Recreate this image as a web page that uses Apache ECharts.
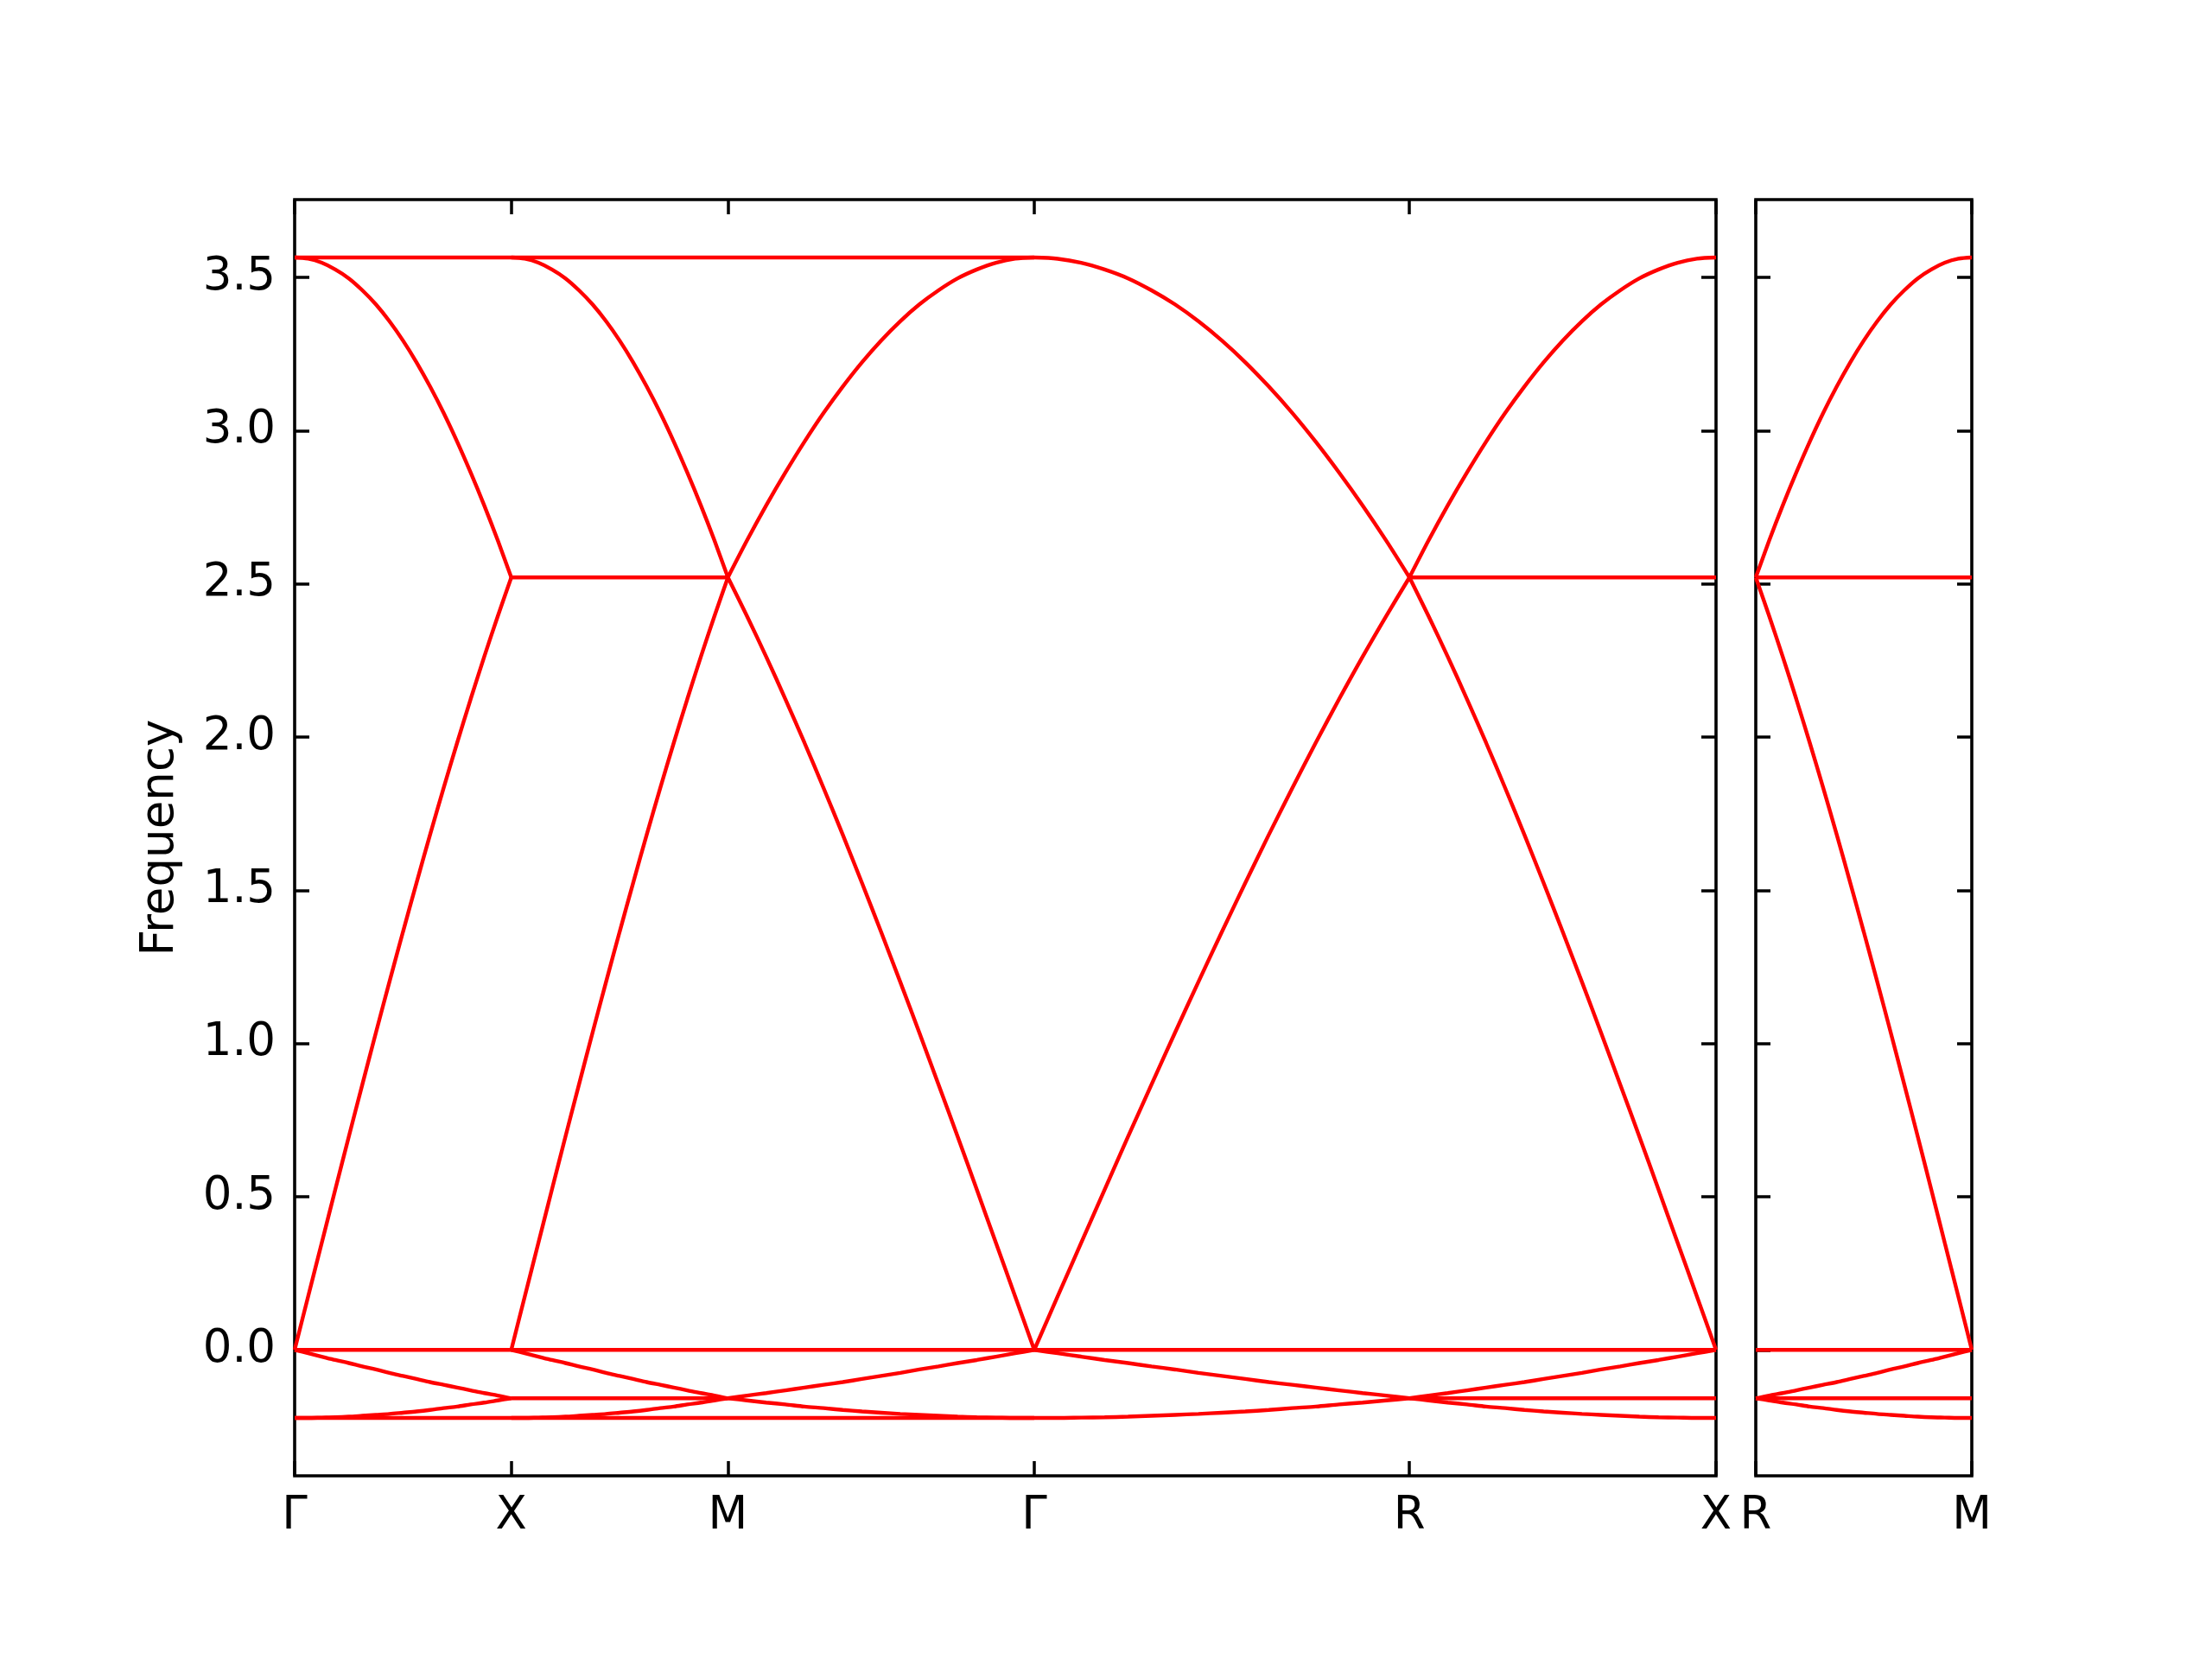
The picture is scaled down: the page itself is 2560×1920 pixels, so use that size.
<!DOCTYPE html>
<html>
<head>
<meta charset="utf-8">
<script src="https://cdn.jsdelivr.net/npm/echarts@6/dist/echarts.min.js"></script>
<style>
html,body{margin:0;padding:0;background:#fff;}
#chart{width:2560px;height:1920px;}
</style>
</head>
<body>
<div id="chart"></div>
<script>
// ---- k-path (x axis) ----
const kLabelsMain = ['Γ', 'X', 'M', 'Γ', 'R', 'X'];
const kPosMain = [0, 1, 2, 3.414, 5.146, 6.561];
const kLabelsSide = ['R', 'M'];
const kPosSide = [0, 1];

// ---- frequency axis ----
const yMin = -0.411;
const yMax = 3.754;
const yTickValues = [0, 0.5, 1.0, 1.5, 2.0, 2.5, 3.0, 3.5];

// fractions along each segment where the curves were read
const sampleFrac = [0, 0.0625, 0.125, 0.1875, 0.25, 0.3125, 0.375, 0.4375, 0.5,
                    0.5625, 0.625, 0.6875, 0.75, 0.8125, 0.875, 0.9375, 1];

// ---- dispersive curves, read left->right along each segment ----
// Γ-X
const curvesGX = [
  [3.565, 3.561, 3.548, 3.526, 3.497, 3.458, 3.412, 3.357, 3.294, 3.223, 3.144, 3.058, 2.964, 2.863, 2.756, 2.642, 2.521],
  [0, 0.175, 0.349, 0.523, 0.696, 0.866, 1.035, 1.201, 1.364, 1.524, 1.681, 1.833, 1.981, 2.124, 2.262, 2.394, 2.521],
  [0, -0.011, -0.022, -0.033, -0.043, -0.054, -0.064, -0.075, -0.085, -0.095, -0.105, -0.114, -0.123, -0.132, -0.141, -0.149, -0.158],
  [-0.222, -0.222, -0.221, -0.220, -0.218, -0.215, -0.212, -0.209, -0.205, -0.201, -0.196, -0.190, -0.185, -0.178, -0.172, -0.165, -0.158]
];
// X-M
const curvesXM = [
  [3.565, 3.561, 3.548, 3.526, 3.497, 3.458, 3.412, 3.357, 3.294, 3.223, 3.144, 3.058, 2.964, 2.863, 2.756, 2.642, 2.521],
  [0, 0.175, 0.349, 0.523, 0.696, 0.866, 1.035, 1.201, 1.364, 1.524, 1.681, 1.833, 1.981, 2.124, 2.262, 2.394, 2.521],
  [0, -0.011, -0.022, -0.033, -0.043, -0.054, -0.064, -0.075, -0.085, -0.095, -0.105, -0.114, -0.123, -0.132, -0.141, -0.149, -0.158],
  [-0.222, -0.222, -0.221, -0.220, -0.218, -0.215, -0.212, -0.209, -0.205, -0.201, -0.196, -0.190, -0.185, -0.178, -0.172, -0.165, -0.158]
];
// M-Γ
const curvesMG = [
  [2.521, 2.642, 2.756, 2.863, 2.964, 3.058, 3.144, 3.223, 3.294, 3.357, 3.412, 3.458, 3.497, 3.526, 3.548, 3.561, 3.565],
  [2.521, 2.394, 2.262, 2.124, 1.981, 1.833, 1.681, 1.524, 1.364, 1.201, 1.035, 0.866, 0.696, 0.523, 0.349, 0.175, 0],
  [-0.158, -0.149, -0.141, -0.132, -0.123, -0.114, -0.105, -0.095, -0.085, -0.075, -0.064, -0.054, -0.043, -0.033, -0.022, -0.011, 0],
  [-0.158, -0.165, -0.172, -0.178, -0.185, -0.190, -0.196, -0.201, -0.205, -0.209, -0.212, -0.215, -0.218, -0.220, -0.221, -0.222, -0.222]
];
// Γ-R
const curvesGR = [
  [3.565, 3.561, 3.548, 3.526, 3.497, 3.458, 3.412, 3.357, 3.294, 3.223, 3.144, 3.058, 2.964, 2.863, 2.756, 2.642, 2.521],
  [0, 0.175, 0.349, 0.523, 0.696, 0.866, 1.035, 1.201, 1.364, 1.524, 1.681, 1.833, 1.981, 2.124, 2.262, 2.394, 2.521],
  [0, -0.011, -0.022, -0.033, -0.043, -0.054, -0.064, -0.075, -0.085, -0.095, -0.105, -0.114, -0.123, -0.132, -0.141, -0.149, -0.158],
  [-0.222, -0.222, -0.221, -0.220, -0.218, -0.215, -0.212, -0.209, -0.205, -0.201, -0.196, -0.190, -0.185, -0.178, -0.172, -0.165, -0.158]
];
// R-X
const curvesRX = [
  [2.521, 2.642, 2.756, 2.863, 2.964, 3.058, 3.144, 3.223, 3.294, 3.357, 3.412, 3.458, 3.497, 3.526, 3.548, 3.561, 3.565],
  [2.521, 2.394, 2.262, 2.124, 1.981, 1.833, 1.681, 1.524, 1.364, 1.201, 1.035, 0.866, 0.696, 0.523, 0.349, 0.175, 0],
  [-0.158, -0.149, -0.141, -0.132, -0.123, -0.114, -0.105, -0.095, -0.085, -0.075, -0.064, -0.054, -0.043, -0.033, -0.022, -0.011, 0],
  [-0.158, -0.165, -0.172, -0.178, -0.185, -0.190, -0.196, -0.201, -0.205, -0.209, -0.212, -0.215, -0.218, -0.220, -0.221, -0.222, -0.222]
];
// R-M (side panel)
const curvesRM = [
  [2.521, 2.642, 2.756, 2.863, 2.964, 3.058, 3.144, 3.223, 3.294, 3.357, 3.412, 3.458, 3.497, 3.526, 3.548, 3.561, 3.565],
  [2.521, 2.394, 2.262, 2.124, 1.981, 1.833, 1.681, 1.524, 1.364, 1.201, 1.035, 0.866, 0.696, 0.523, 0.349, 0.175, 0],
  [-0.158, -0.149, -0.141, -0.132, -0.123, -0.114, -0.105, -0.095, -0.085, -0.075, -0.064, -0.054, -0.043, -0.033, -0.022, -0.011, 0],
  [-0.158, -0.165, -0.172, -0.178, -0.185, -0.190, -0.196, -0.201, -0.205, -0.209, -0.212, -0.215, -0.218, -0.220, -0.221, -0.222, -0.222]
];

// ---- flat bands: [value, start k-point index, end k-point index] ----
const flatMain = [
  [3.565, 0, 3],
  [2.521, 1, 2],
  [2.521, 4, 5],
  [0, 0, 5],
  [-0.158, 1, 2],
  [-0.158, 4, 5],
  [-0.222, 0, 3]
];
const flatSide = [
  [2.521, 0, 1],
  [0, 0, 1],
  [-0.158, 0, 1]
];

// ---------------------------------------------------------------
const RED = '#ff0000';
const FONT = 'DejaVu Sans';
const LW = 4.4;

const segmentsMain = [curvesGX, curvesXM, curvesMG, curvesGR, curvesRX];
const series = [];

function addCurve(data, gi, smooth) {
  series.push({
    type: 'line', xAxisIndex: gi * 2, yAxisIndex: gi * 2,
    data: data, symbol: 'none', smooth: smooth ? 0.3 : false, silent: true,
    lineStyle: { color: RED, width: LW }, animation: false, z: 1
  });
}

segmentsMain.forEach((curves, s) => {
  const x0 = kPosMain[s], x1 = kPosMain[s + 1];
  curves.forEach(c => addCurve(sampleFrac.map((f, j) => [x0 + f * (x1 - x0), c[j]]), 0, true));
});
curvesRM.forEach(c => {
  const x0 = kPosSide[0], x1 = kPosSide[1];
  addCurve(sampleFrac.map((f, j) => [x0 + f * (x1 - x0), c[j]]), 1, true);
});
flatMain.forEach(([v, a, b]) => addCurve([[kPosMain[a], v], [kPosMain[b], v]], 0, false));
flatSide.forEach(([v, a, b]) => addCurve([[kPosSide[a], v], [kPosSide[b], v]], 1, false));

const tickStyle = { inside: true, length: 17, lineStyle: { color: '#000', width: 3.5 } };
const labelStyle = { color: '#000', fontSize: 53, fontFamily: FONT };

function xAxes(gi, pos, labels) {
  return [
    {
      gridIndex: gi, type: 'value', position: 'bottom', min: pos[0], max: pos[pos.length - 1],
      axisLine: { show: false, onZero: false }, splitLine: { show: false },
      axisTick: Object.assign({ customValues: pos }, tickStyle),
      axisLabel: Object.assign({
        customValues: pos, margin: 21,
        formatter: v => { const i = pos.findIndex(p => Math.abs(p - v) < 1e-6); return i >= 0 ? labels[i] : ''; }
      }, labelStyle)
    },
    {
      gridIndex: gi, type: 'value', position: 'top', min: pos[0], max: pos[pos.length - 1],
      axisLine: { show: false, onZero: false }, splitLine: { show: false },
      axisTick: Object.assign({ customValues: pos }, tickStyle),
      axisLabel: { show: false }
    }
  ];
}
function yAxes(gi, withLabels) {
  const left = {
    gridIndex: gi, type: 'value', position: 'left', min: yMin, max: yMax,
    axisLine: { show: false, onZero: false }, splitLine: { show: false },
    axisTick: Object.assign({ customValues: yTickValues }, tickStyle),
    axisLabel: withLabels ? Object.assign({
      customValues: yTickValues, margin: 22, padding: [18, 0, 0, 0],
      formatter: v => v.toFixed(1)
    }, labelStyle) : { show: false }
  };
  if (withLabels) {
    left.name = 'Frequency';
    left.nameLocation = 'middle';
    left.nameGap = 128;
    left.nameTextStyle = { color: '#000', fontSize: 53, fontFamily: FONT };
  }
  const right = {
    gridIndex: gi, type: 'value', position: 'right', min: yMin, max: yMax,
    axisLine: { show: false, onZero: false }, splitLine: { show: false },
    axisTick: Object.assign({ customValues: yTickValues }, tickStyle),
    axisLabel: { show: false }
  };
  return [left, right];
}

const gridStyle = { show: true, borderColor: '#000', borderWidth: 3.6, backgroundColor: 'transparent' };
const option = {
  backgroundColor: '#fff',
  animation: false,
  grid: [
    Object.assign({ left: 341, top: 231, width: 1645, height: 1477 }, gridStyle),
    Object.assign({ left: 2032, top: 231, width: 250, height: 1477 }, gridStyle)
  ],
  xAxis: [...xAxes(0, kPosMain, kLabelsMain), ...xAxes(1, kPosSide, kLabelsSide)],
  yAxis: [...yAxes(0, true), ...yAxes(1, false)],
  series: series
};

const chart = echarts.init(document.getElementById('chart'), null, { renderer: 'canvas' });
chart.setOption(option);
</script>
</body>
</html>
